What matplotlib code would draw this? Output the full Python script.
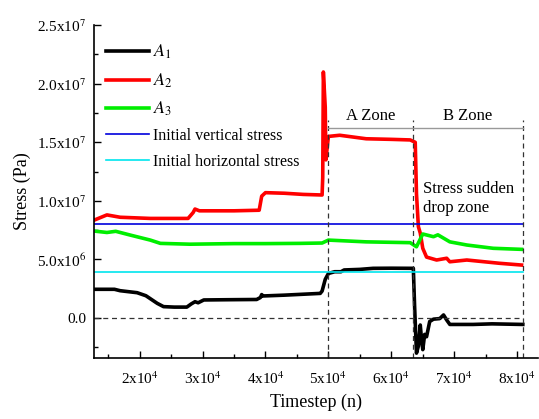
import math
import matplotlib
matplotlib.use("Agg")
import matplotlib.pyplot as plt
from matplotlib.ticker import FixedLocator, MultipleLocator, FuncFormatter

plt.rcParams['font.family'] = ['Liberation Serif', 'DejaVu Serif']
plt.rcParams['mathtext.fontset'] = 'stix'

# ---- data ----
a1_x = [1.28e4, 1.6e4, 1.69e4, 1.96e4, 2.1e4, 2.28e4, 2.38e4, 2.55e4, 2.75e4, 2.82e4, 2.88e4, 2.93e4,
        3.02e4, 3.4e4, 3.86e4, 3.92e4, 3.94e4, 3.96e4, 4.3e4, 4.87e4, 4.9e4, 4.95e4, 5.0e4, 5.1e4,
        5.2e4, 5.25e4, 5.5e4, 5.71e4, 6.0e4, 6.35e4, 6.37e4, 6.4e4, 6.43e4, 6.46e4, 6.48e4, 6.5e4,
        6.53e4, 6.56e4, 6.61e4, 6.67e4, 6.77e4, 6.83e4, 6.88e4, 6.93e4, 7.3e4, 7.6e4, 8.09e4]
a1_y = [2.45e6, 2.45e6, 2.33e6, 2.16e6, 1.9e6, 1.25e6, 0.97e6, 0.93e6, 0.93e6, 1.2e6, 1.39e6, 1.3e6,
        1.54e6, 1.56e6, 1.58e6, 1.75e6, 2.0e6, 1.88e6, 1.95e6, 2.1e6, 2.3e6, 3.3e6, 3.8e6, 3.95e6,
        3.95e6, 4.1e6, 4.15e6, 4.24e6, 4.25e6, 4.24e6, 1.0e6, -3.0e6, -2.4e6, -0.6e6, -1.8e6, -2.7e6,
        -1.4e6, -1.6e6, -0.3e6, -0.1e6, -0.05e6, 0.26e6, -0.17e6, -0.55e6, -0.55e6, -0.5e6, -0.55e6]

a2_x = [1.28e4, 1.48e4, 1.69e4, 2.17e4, 2.5e4, 2.77e4, 2.85e4, 2.88e4, 2.95e4, 3.2e4, 3.5e4, 3.9e4,
        3.94e4, 4.0e4, 4.3e4, 4.6e4, 4.9e4, 4.91e4, 4.92e4, 4.95e4, 4.96e4, 5.0e4, 5.18e4, 5.6e4,
        6.0e4, 6.3e4, 6.38e4, 6.4e4, 6.43e4, 6.46e4, 6.5e4, 6.56e4, 6.72e4, 6.88e4, 6.93e4, 7.2e4,
        7.72e4, 8.07e4]
a2_y = [8.36e6, 8.8e6, 8.6e6, 8.5e6, 8.5e6, 8.5e6, 9.0e6, 9.3e6, 9.15e6, 9.15e6, 9.15e6, 9.2e6,
        10.4e6, 10.7e6, 10.65e6, 10.55e6, 10.5e6, 12.0e6, 21.0e6, 18.0e6, 13.5e6, 15.5e6, 15.6e6, 15.3e6,
        15.25e6, 15.2e6, 15.0e6, 10.6e6, 7.8e6, 7.25e6, 5.95e6, 5.2e6, 4.95e6, 5.1e6, 4.8e6, 4.95e6,
        4.67e6, 4.52e6]

a3_x = [1.28e4, 1.48e4, 1.62e4, 1.85e4, 2.17e4, 2.33e4, 2.8e4, 3.5e4, 4.0e4, 4.55e4, 4.9e4, 5.0e4,
        5.6e4, 6.3e4, 6.4e4, 6.5e4, 6.67e4, 6.74e4, 6.93e4, 7.2e4, 7.62e4, 8.07e4]
a3_y = [7.42e6, 7.3e6, 7.4e6, 7.08e6, 6.65e6, 6.37e6, 6.3e6, 6.35e6, 6.35e6, 6.37e6, 6.4e6, 6.65e6,
        6.5e6, 6.43e6, 6.08e6, 7.17e6, 6.94e6, 7.1e6, 6.5e6, 6.23e6, 5.95e6, 5.86e6]

vertical_stress = 8.05e6
horizontal_stress = 3.95e6
zone_bounds = [5.0e4, 6.35e4, 8.09e4]
x_ticks = [2e4, 3e4, 4e4, 5e4, 6e4, 7e4, 8e4]
y_ticks = [0, 5e6, 1e7, 1.5e7, 2e7, 2.5e7]

fig = plt.figure(figsize=(5.39, 4.19), dpi=100)
ax = fig.add_axes([0.175, 0.146, 0.823, 0.794])

ax.plot(a1_x, a1_y, color='black', lw=2.6, label=r'$A_1$', solid_joinstyle='round')
ax.plot(a2_x, a2_y, color='#ff0000', lw=2.6, label=r'$A_2$', solid_joinstyle='round')
ax.plot(a3_x, a3_y, color='#00ee00', lw=2.6, label=r'$A_3$', solid_joinstyle='round')
ax.plot([1.28e4, zone_bounds[2]], [vertical_stress] * 2, color='#0000dd', lw=1.2,
        label='Initial vertical stress')
ax.plot([1.28e4, zone_bounds[2]], [horizontal_stress] * 2, color='#00e5ee', lw=1.2,
        label='Initial horizontal stress')

# zero line
ax.plot([1.28e4, zone_bounds[2]], [0, 0], color='#333333', lw=0.9, ls=(0, (4, 3)))
# zone lines
for xb in zone_bounds:
    ax.plot([xb, xb], [-3.4e6, 1.69e7], color='#333333', lw=0.9, ls=(0, (4, 3)))
ax.plot([zone_bounds[0], zone_bounds[2]], [1.62e7, 1.62e7], color='#999999', lw=1.0)
ax.text((zone_bounds[0] + zone_bounds[1]) / 2, 1.66e7, 'A Zone', ha='center', va='bottom', fontsize=12)
ax.text((zone_bounds[1] + zone_bounds[2]) / 2, 1.66e7, 'B Zone', ha='center', va='bottom', fontsize=12)
ax.text(6.5e4, 1.02e7, 'Stress sudden\ndrop zone', ha='left', va='center', fontsize=12, linespacing=1.2)

ax.set_xlim(1.28e4, 8.33e4)
ax.set_ylim(-3.4e6, 2.5e7)

for s in ['top', 'right']:
    ax.spines[s].set_visible(False)
for s in ['left', 'bottom']:
    ax.spines[s].set_linewidth(1.2)

ax.xaxis.set_major_locator(FixedLocator(x_ticks))
ax.xaxis.set_minor_locator(MultipleLocator(5e3))
ax.yaxis.set_major_locator(FixedLocator(y_ticks))
ax.yaxis.set_minor_locator(MultipleLocator(2.5e6))

def xfmt(v, p):
    return r'%dx10$^{4}$' % round(v / 1e4)

def yfmt(v, p):
    if v == 0:
        return '0.0'
    e = int(math.floor(math.log10(abs(v))))
    return r'%.1fx10$^{%d}$' % (v / 10 ** e, e)

ax.xaxis.set_major_formatter(FuncFormatter(xfmt))
ax.yaxis.set_major_formatter(FuncFormatter(yfmt))
ax.tick_params(which='both', direction='in', labelsize=11, width=1.0)
ax.tick_params(axis='y', which='major', length=5, pad=6)
ax.tick_params(axis='x', which='major', length=5, pad=9)
ax.tick_params(which='minor', length=3)

ax.set_xlabel('Timestep (n)', fontsize=13, labelpad=5)
ax.set_ylabel('Stress (Pa)', fontsize=13, labelpad=4)

leg = ax.legend(loc='upper left', bbox_to_anchor=(0.0, 0.98), frameon=False, fontsize=11.5,
                handlelength=2.7, handletextpad=0.3, labelspacing=0.62, borderaxespad=0.3)
for t in leg.get_texts()[:3]:
    t.set_fontsize(13)

fig.savefig('out.png', dpi=100)
